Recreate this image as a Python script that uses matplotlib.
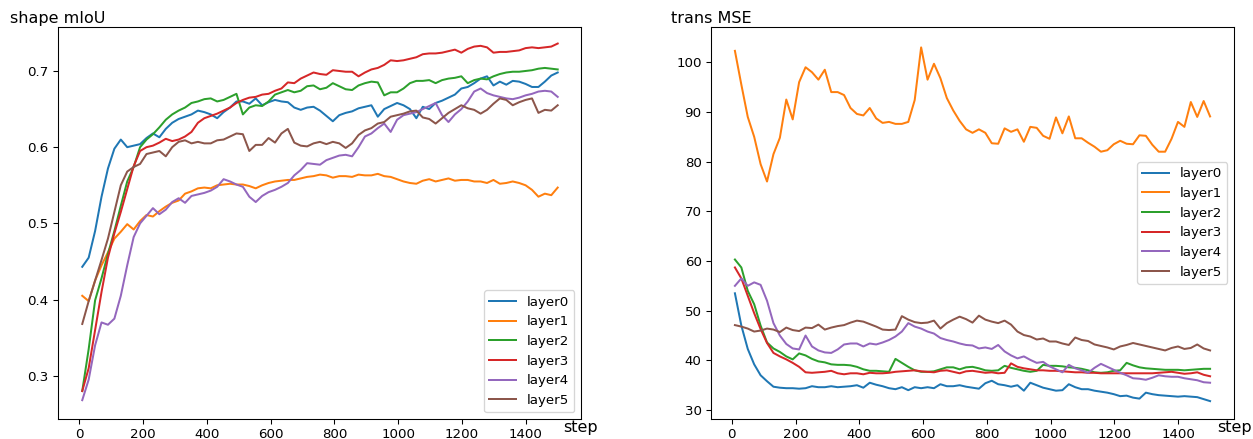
import numpy as np
import matplotlib
matplotlib.use("Agg")
import matplotlib.pyplot as plt

# ---------------- data ----------------
steps = np.linspace(10, 1500, 75)
layer_names = ["layer0", "layer1", "layer2", "layer3", "layer4", "layer5"]

miou_layer0 = [0.443, 0.455, 0.490, 0.535, 0.572, 0.598, 0.610, 0.600, 0.602, 0.604,
               0.612, 0.618, 0.613, 0.624, 0.632, 0.637, 0.640, 0.643, 0.648, 0.646,
               0.643, 0.638, 0.646, 0.652, 0.660, 0.660, 0.657, 0.664, 0.655, 0.659,
               0.662, 0.660, 0.659, 0.652, 0.649, 0.652, 0.653, 0.648, 0.641, 0.634,
               0.642, 0.645, 0.647, 0.651, 0.653, 0.655, 0.640, 0.650, 0.654, 0.658,
               0.655, 0.650, 0.638, 0.653, 0.650, 0.658, 0.661, 0.665, 0.669, 0.677,
               0.679, 0.684, 0.690, 0.693, 0.681, 0.686, 0.682, 0.687, 0.686, 0.683,
               0.679, 0.679, 0.686, 0.694, 0.698]
miou_layer1 = [0.405, 0.398, 0.425, 0.445, 0.462, 0.480, 0.489, 0.499, 0.492, 0.503,
               0.511, 0.509, 0.516, 0.522, 0.527, 0.530, 0.539, 0.542, 0.546, 0.547,
               0.546, 0.550, 0.551, 0.552, 0.551, 0.551, 0.549, 0.546, 0.550, 0.553,
               0.555, 0.556, 0.557, 0.557, 0.559, 0.561, 0.562, 0.564, 0.563, 0.560,
               0.562, 0.562, 0.561, 0.564, 0.563, 0.563, 0.565, 0.562, 0.561, 0.558,
               0.555, 0.553, 0.552, 0.556, 0.558, 0.555, 0.557, 0.559, 0.556, 0.557,
               0.557, 0.555, 0.555, 0.553, 0.557, 0.552, 0.553, 0.555, 0.553, 0.550,
               0.544, 0.535, 0.539, 0.537, 0.547]
miou_layer2 = [0.280, 0.335, 0.399, 0.428, 0.460, 0.490, 0.523, 0.555, 0.574, 0.600,
               0.610, 0.617, 0.626, 0.636, 0.643, 0.648, 0.652, 0.658, 0.660, 0.663,
               0.664, 0.660, 0.662, 0.666, 0.670, 0.643, 0.652, 0.655, 0.654, 0.660,
               0.669, 0.672, 0.675, 0.672, 0.674, 0.680, 0.681, 0.676, 0.678, 0.684,
               0.680, 0.676, 0.675, 0.681, 0.684, 0.686, 0.685, 0.668, 0.672, 0.672,
               0.677, 0.684, 0.687, 0.687, 0.688, 0.684, 0.688, 0.690, 0.691, 0.693,
               0.684, 0.688, 0.690, 0.689, 0.693, 0.696, 0.698, 0.699, 0.699, 0.700,
               0.701, 0.703, 0.704, 0.703, 0.702]
miou_layer3 = [0.280, 0.310, 0.360, 0.410, 0.455, 0.487, 0.515, 0.545, 0.575, 0.595,
               0.600, 0.602, 0.606, 0.611, 0.608, 0.610, 0.614, 0.620, 0.632, 0.638,
               0.641, 0.644, 0.648, 0.652, 0.658, 0.662, 0.665, 0.666, 0.669, 0.670,
               0.674, 0.677, 0.685, 0.684, 0.690, 0.694, 0.698, 0.696, 0.695, 0.701,
               0.700, 0.699, 0.699, 0.693, 0.698, 0.702, 0.704, 0.708, 0.714, 0.713,
               0.714, 0.716, 0.718, 0.722, 0.723, 0.723, 0.724, 0.726, 0.728, 0.724,
               0.729, 0.732, 0.733, 0.731, 0.724, 0.725, 0.725, 0.726, 0.727, 0.730,
               0.731, 0.730, 0.731, 0.732, 0.736]
miou_layer4 = [0.268, 0.295, 0.340, 0.370, 0.367, 0.375, 0.405, 0.445, 0.482, 0.500,
               0.510, 0.520, 0.512, 0.518, 0.528, 0.533, 0.527, 0.536, 0.538, 0.540,
               0.543, 0.548, 0.558, 0.555, 0.551, 0.548, 0.535, 0.528, 0.536, 0.541,
               0.544, 0.548, 0.553, 0.563, 0.570, 0.579, 0.578, 0.577, 0.583, 0.586,
               0.589, 0.590, 0.588, 0.600, 0.614, 0.618, 0.625, 0.631, 0.620, 0.636,
               0.642, 0.644, 0.646, 0.650, 0.654, 0.658, 0.642, 0.633, 0.643, 0.650,
               0.660, 0.673, 0.677, 0.671, 0.668, 0.666, 0.664, 0.663, 0.665, 0.668,
               0.670, 0.673, 0.674, 0.673, 0.666]
miou_layer5 = [0.368, 0.398, 0.425, 0.452, 0.480, 0.515, 0.550, 0.568, 0.574, 0.578,
               0.591, 0.593, 0.595, 0.588, 0.600, 0.607, 0.609, 0.605, 0.607, 0.605,
               0.605, 0.609, 0.610, 0.614, 0.618, 0.617, 0.595, 0.603, 0.603, 0.612,
               0.606, 0.618, 0.624, 0.606, 0.602, 0.601, 0.605, 0.607, 0.604, 0.607,
               0.605, 0.599, 0.605, 0.616, 0.622, 0.625, 0.631, 0.633, 0.640, 0.642,
               0.644, 0.647, 0.648, 0.639, 0.637, 0.631, 0.638, 0.645, 0.650, 0.655,
               0.651, 0.649, 0.644, 0.649, 0.657, 0.664, 0.662, 0.655, 0.659, 0.662,
               0.664, 0.645, 0.649, 0.648, 0.655]

mse_layer0 = [53.5, 47.0, 42.3, 39.2, 37.0, 35.8, 34.7, 34.5, 34.4, 34.4,
              34.3, 34.4, 34.8, 34.6, 34.6, 34.8, 34.6, 34.7, 34.8, 35.0,
              34.5, 35.5, 35.1, 34.8, 34.4, 34.2, 34.6, 34.0, 34.6, 34.4,
              34.6, 34.4, 35.2, 34.8, 34.8, 35.0, 34.7, 34.5, 34.3, 35.4,
              35.9, 35.2, 35.0, 34.7, 35.0, 33.9, 35.5, 35.0, 34.5, 34.2,
              33.9, 34.0, 35.2, 34.6, 34.2, 34.2, 33.9, 33.7, 33.5, 33.2,
              32.8, 32.9, 32.5, 32.3, 33.5, 33.2, 33.0, 32.9, 32.8, 32.7,
              32.8, 32.7, 32.6, 32.2, 31.8]
mse_layer1 = [102.3, 95.5, 89.0, 85.0, 79.5, 76.0, 81.5, 84.8, 92.5, 88.5,
              96.0, 99.0, 98.0, 96.5, 98.5, 94.0, 94.0, 93.4, 90.8, 89.6,
              89.3, 90.8, 88.7, 87.8, 88.0, 87.6, 87.6, 88.0, 92.4, 103.0,
              96.5, 99.7, 96.8, 92.8, 90.3, 88.2, 86.5, 85.8, 86.5, 85.8,
              83.7, 83.6, 86.7, 86.0, 86.5, 84.0, 87.0, 86.8, 85.2, 84.6,
              88.9, 85.7, 89.1, 84.7, 84.7, 83.8, 83.0, 82.0, 82.3, 83.5,
              84.2, 83.6, 83.5, 85.3, 85.2, 83.4, 82.0, 82.0, 84.6, 88.0,
              87.0, 92.0, 89.0, 92.2, 89.1]
mse_layer2 = [60.3, 58.7, 54.0, 51.3, 47.0, 43.6, 42.4, 41.7, 40.8, 40.2,
              41.4, 41.0, 40.3, 39.8, 39.6, 39.2, 39.1, 39.1, 39.0, 38.7,
              38.2, 37.9, 37.9, 37.8, 37.7, 40.3, 39.5, 38.7, 38.0, 37.7,
              37.7, 37.8, 38.2, 38.6, 38.6, 38.2, 38.6, 38.7, 38.4, 38.0,
              37.9, 38.0, 38.9, 38.5, 38.2, 37.9, 37.7, 37.9, 39.1, 38.9,
              38.9, 38.8, 38.6, 38.5, 38.3, 38.0, 37.6, 37.5, 37.6, 37.9,
              38.0, 39.5, 39.0, 38.6, 38.4, 38.3, 38.2, 38.1, 38.1, 38.1,
              38.0, 38.1, 38.2, 38.3, 38.3]
mse_layer3 = [58.7, 56.5, 53.0, 49.5, 46.3, 43.5, 41.5, 40.8, 40.2, 39.5,
              38.7, 37.6, 37.5, 37.6, 37.7, 37.9, 37.4, 37.2, 37.4, 37.4,
              37.2, 37.5, 37.4, 37.4, 37.5, 37.7, 37.8, 37.9, 38.0, 37.8,
              37.7, 37.6, 37.9, 38.0, 37.7, 37.4, 37.8, 37.9, 37.7, 37.5,
              37.6, 37.4, 37.5, 39.4, 38.7, 38.4, 38.2, 38.0, 38.0, 37.9,
              37.9, 37.8, 37.7, 37.6, 37.6, 37.5, 37.5, 37.4, 37.4, 37.4,
              37.4, 37.4, 37.4, 37.4, 37.4, 37.4, 37.5, 37.6, 37.7, 37.5,
              37.3, 37.4, 37.6, 37.1, 36.8]
mse_layer4 = [55.0, 56.5, 55.0, 55.7, 55.2, 52.0, 47.5, 45.0, 43.3, 42.4,
              42.2, 45.0, 42.8, 42.0, 41.6, 41.5, 42.2, 43.2, 43.4, 43.4,
              42.8, 43.4, 43.2, 43.6, 44.1, 44.8, 45.8, 47.5, 46.8, 46.4,
              45.8, 45.4, 44.5, 44.1, 43.8, 43.4, 43.1, 43.0, 42.4, 42.6,
              42.3, 43.1, 41.8, 41.0, 40.4, 40.8, 40.1, 39.5, 39.7, 38.8,
              38.2, 37.6, 39.1, 38.4, 38.0, 37.5, 38.5, 39.3, 38.7, 38.1,
              37.5, 37.0, 36.4, 36.3, 36.1, 36.5, 37.0, 36.8, 36.7, 36.7,
              36.4, 36.2, 36.0, 35.6, 35.5]
mse_layer5 = [47.1, 46.8, 46.4, 45.8, 46.0, 46.4, 46.2, 45.7, 46.6, 46.1,
              45.9, 46.6, 46.5, 47.2, 46.2, 46.6, 46.9, 47.1, 47.6, 48.0,
              47.8, 47.3, 46.8, 46.2, 46.1, 46.2, 48.9, 48.2, 47.7, 47.5,
              47.6, 48.0, 46.4, 47.5, 48.2, 48.8, 48.3, 47.6, 49.0, 48.2,
              47.8, 47.5, 48.0, 47.2, 45.8, 45.1, 44.8, 44.2, 44.4, 43.8,
              43.8, 43.4, 43.1, 44.6, 44.1, 43.9, 43.2, 42.9, 42.6, 42.2,
              42.8, 43.1, 43.5, 43.2, 42.9, 42.6, 42.3, 42.0, 42.5, 42.8,
              42.3, 42.5, 43.2, 42.4, 42.0]

miou_series = [miou_layer0, miou_layer1, miou_layer2, miou_layer3, miou_layer4, miou_layer5]
mse_series = [mse_layer0, mse_layer1, mse_layer2, mse_layer3, mse_layer4, mse_layer5]
x_ticks = [0, 200, 400, 600, 800, 1000, 1200, 1400]

# ---------------- figure ----------------
W, H, DPI = 1253, 439, 96
fig = plt.figure(figsize=(W / DPI, H / DPI), dpi=DPI)
ax1 = fig.add_axes([58 / W, 20 / H, 523 / W, 392 / H])
ax2 = fig.add_axes([711 / W, 20 / H, 523 / W, 392 / H])

for name, vals in zip(layer_names, miou_series):
    ax1.plot(steps, vals, label=name, lw=1.5)
for name, vals in zip(layer_names, mse_series):
    ax2.plot(steps, vals, label=name, lw=1.5)

ax1.set_xlim(-66, 1573)
ax1.set_ylim(0.2433, 0.7577)
ax2.set_xlim(-65, 1575)
ax2.set_ylim(28.2, 107.1)
for ax in (ax1, ax2):
    ax.set_xticks(x_ticks)
ax1.set_yticks([0.3, 0.4, 0.5, 0.6, 0.7])
ax2.set_yticks([30, 40, 50, 60, 70, 80, 90, 100])

ax1.legend(loc="lower right")
ax2.legend(loc="center right")

for ax, title in ((ax1, "shape mIoU"), (ax2, "trans MSE")):
    ax.text(0.0, 1.002, title, transform=ax.transAxes, ha="center", va="bottom", fontsize=12)
    ax.text(1.0, -0.002, "step", transform=ax.transAxes, ha="center", va="top", fontsize=12)

fig.savefig("out.png", dpi=DPI)
